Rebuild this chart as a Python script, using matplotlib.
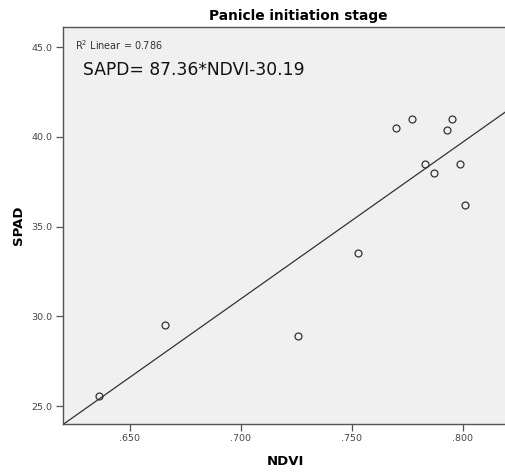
import numpy as np
import matplotlib
matplotlib.use("Agg")
import matplotlib.pyplot as plt

# values
ndvi = [0.636, 0.666, 0.726, 0.753, 0.770, 0.777, 0.783, 0.787, 0.793, 0.795, 0.799, 0.801]
spad = [25.55, 29.5, 28.9, 33.5, 40.5, 41.0, 38.5, 38.0, 40.4, 41.0, 38.5, 36.2]
slope = 87.36
intercept = -30.19
r2 = 0.786
xticks = [0.650, 0.700, 0.750, 0.800]
xticklabels = ['.650', '.700', '.750', '.800']
yticks = [25.0, 30.0, 35.0, 40.0, 45.0]
yticklabels = ['25.0', '30.0', '35.0', '40.0', '45.0']

plt.rcParams['font.family'] = ['DejaVu Sans']

fig = plt.figure(figsize=(5.06, 4.74), dpi=100)
ax = fig.add_axes([63/506, 1-424/474, 1.002-63/506, (424-27.3)/474])
ax.set_facecolor('#f0f0f0')

xlim = (0.620, 0.820)
ax.set_xlim(*xlim)
ax.set_ylim(24.0, 46.1)

# fit line across the whole axis
xl = np.array(xlim)
ax.plot(xl, slope*xl + intercept, color='#333333', lw=0.9, zorder=2)

ax.plot(ndvi, spad, linestyle='none', marker='o', markersize=5,
        markerfacecolor='none', markeredgecolor='#333333', markeredgewidth=0.9, zorder=3)

ax.set_xticks(xticks)
ax.set_xticklabels(xticklabels)
ax.set_yticks(yticks)
ax.set_yticklabels(yticklabels)
ax.tick_params(direction='out', length=5, width=0.9, color='#555555',
               labelsize=6.8, labelcolor='#444444', pad=2.5)

for s in ['left', 'bottom', 'top']:
    ax.spines[s].set_color('#555555')
    ax.spines[s].set_linewidth(1.0)
ax.spines['right'].set_visible(False)

ax.set_xlabel('NDVI', fontsize=9.5, fontweight='bold', labelpad=8)
ax.set_ylabel('SPAD', fontsize=9.5, fontweight='bold', labelpad=5)

fig.text(298/506, 1-16/474, 'Panicle initiation stage', ha='center', va='center',
         fontsize=9.9, fontweight='bold')

ax.text(75/506, 1-45/474, 'R$^2$ Linear = %.3f' % r2, transform=fig.transFigure,
        ha='left', va='center', fontsize=7, color='#333333')
ax.text(82.7/506, 1-75/474, 'SAPD= %.2f*NDVI%.2f' % (slope, intercept), transform=fig.transFigure,
        ha='left', va='baseline', fontsize=12.3, color='#111111')

fig.savefig('out.png', dpi=100)
